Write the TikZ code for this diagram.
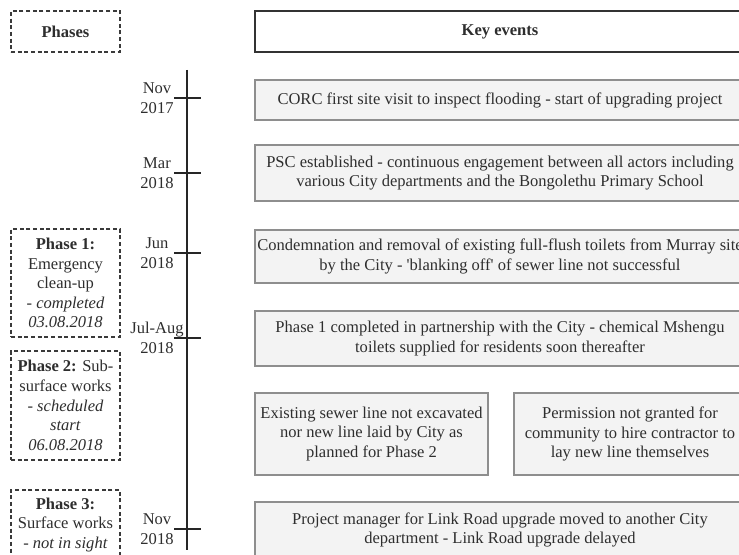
\documentclass[tikz,border=0pt]{standalone}
\usepackage{fontspec}
\setmainfont{Liberation Serif}
\definecolor{txt}{HTML}{2E2E2E}
\definecolor{evfill}{HTML}{F3F3F3}
\definecolor{evline}{HTML}{8E8E8E}
\definecolor{dashline}{HTML}{3A3A3A}
\tikzset{
  every node/.style={font=\fontsize{12.4}{14.7}\selectfont, text=txt},
  evbox/.style={draw=evline, fill=evfill, line width=1pt, align=center, inner sep=0pt, minimum width=367.5pt},
  phasebox/.style={draw=dashline, line width=0.9pt, dash pattern=on 3pt off 2pt, align=center, inner sep=0pt, minimum width=81.75pt},
  datelbl/.style={align=center, inner sep=0pt},
  tline/.style={draw=black!85, line width=1.1pt},
}
\begin{document}
\begin{tikzpicture}[x=0.75pt,y=-0.75pt]
\path[use as bounding box, clip] (0,0) rectangle (739,555);
\fill[white] (0,0) rectangle (739,555);
% headers
\node[phasebox, minimum height=30.75pt] (ph) at (65.5,31.5) {\textbf{Phases}};
\node[draw=black!80, line width=1pt, fill=white, minimum width=367.5pt, minimum height=30.75pt, inner sep=0pt] (ke) at (500,31.5) {\textbf{Key events}};
% phase boxes
\node[phasebox, minimum height=81pt] (p1) at (65.5,283) {\textbf{Phase 1:}\\Emergency\\clean-up\\\textit{- completed}\\\textit{03.08.2018}};
\node[phasebox, minimum height=81.75pt] (p2) at (65.5,405.5) {\textbf{Phase 2:} Sub-\\surface works\\\textit{- scheduled}\\\textit{start}\\\textit{06.08.2018}};
\node[phasebox, minimum height=52.5pt] (p3) at (65.5,525) {\textbf{Phase 3:}\\Surface works\\\textit{- not in sight}};
% timeline
\coordinate (ttop) at (187,70);
\coordinate (tbot) at (187,550);
\draw[tline] (ttop) -- (tbot);
\foreach \n/\y in {t1/98, t2/173, t3/253, t4/338, t5/529}{
  \coordinate (\n l) at (174,\y);
  \coordinate (\n r) at (201,\y);
  \draw[tline] (\n l) -- (\n r);
}
\node[datelbl] (d1) at (157,98) {Nov\\2017};
\node[datelbl] (d2) at (157,173) {Mar\\2018};
\node[datelbl] (d3) at (157,253) {Jun\\2018};
\node[datelbl] (d4) at (157,338) {Jul-Aug\\2018};
\node[datelbl] (d5) at (157,529) {Nov\\2018};
% events
\node[evbox, minimum height=30pt] (e1) at (500,100) {CORC first site visit to inspect flooding - start of upgrading project};
\node[evbox, minimum height=42pt] (e2) at (500,173) {PSC established - continuous engagement between all actors including\\various City departments and the Bongolethu Primary School};
\node[evbox, minimum height=39.75pt] (e3) at (500,256.5) {Condemnation and removal of existing full-flush toilets from Murray site\\by the City - \textquotesingle blanking off\textquotesingle\ of sewer line not successful};
\node[evbox, minimum height=41.25pt] (e4) at (500,338.5) {Phase 1 completed in partnership with the City - chemical Mshengu\\toilets supplied for residents soon thereafter};
\node[evbox, minimum width=174.75pt, minimum height=61.5pt] (e5a) at (371.5,434) {Existing sewer line not excavated\\nor new line laid by City as\\planned for Phase 2};
\node[evbox, minimum width=174pt, minimum height=61.5pt] (e5b) at (630,434) {Permission not granted for\\community to hire contractor to\\lay new line themselves};
\node[evbox, minimum height=42pt] (e6) at (500,530) {Project manager for Link Road upgrade moved to another City\\department - Link Road upgrade delayed};
\end{tikzpicture}
\end{document}
